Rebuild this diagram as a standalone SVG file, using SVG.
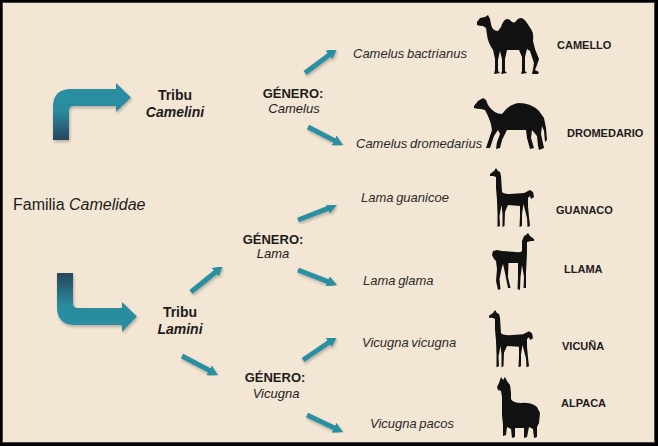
<svg xmlns="http://www.w3.org/2000/svg" width="658" height="446" viewBox="0 0 658 446">
<defs>
<linearGradient id="gUp" x1="0" y1="0" x2="0" y2="1">
<stop offset="0" stop-color="#2A90A4"/>
<stop offset="0.5" stop-color="#2A8A9E"/>
<stop offset="1" stop-color="#27475E"/>
</linearGradient>
<linearGradient id="gDown" x1="0" y1="0" x2="0" y2="1">
<stop offset="0" stop-color="#27475E"/>
<stop offset="0.55" stop-color="#2A8A9E"/>
<stop offset="1" stop-color="#2A90A4"/>
</linearGradient>
<filter id="sh" x="-20%" y="-20%" width="150%" height="150%">
<feDropShadow dx="1" dy="2" stdDeviation="1.5" flood-color="#000" flood-opacity="0.25"/>
</filter>
<marker id="ah" viewBox="0 0 10 11" markerWidth="2" markerHeight="2.2" refX="1" refY="5.5" orient="auto" markerUnits="strokeWidth">
<path d="M0,0 L10,5.5 L0,11 Z" fill="#2A8FA1"/>
</marker>
<style>
.t{font-family:"Liberation Sans",Arial,sans-serif;fill:#1c1c1c;}
.b{font-weight:bold;}
.i{font-style:italic;}
.sp{font-family:"Liberation Sans",Arial,sans-serif;font-style:italic;font-size:13px;fill:#2a2a2a;word-spacing:-1px;}
.cn{font-family:"Liberation Sans",Arial,sans-serif;font-weight:bold;font-size:11px;fill:#1c1c1c;}
.c{stroke:#2A8FA1;stroke-width:5;fill:none;marker-end:url(#ah);filter:url(#sh);}
.sil{fill:#111;}
</style>
</defs>
<rect x="0" y="0" width="658" height="446" fill="#000"/>
<rect x="2.5" y="2.5" width="652" height="440" fill="#F4E6D4" stroke="#444" stroke-width="1"/>

<g id="connectors">
<path d="M53,140 L53,107 Q53,89 71,89 L116,89 L116,83 L131,97.5 L116,112 L116,106 L74,106 Q69,106 69,111 L69,140 Z" fill="url(#gUp)" filter="url(#sh)"/>
<path d="M57,273 L73,273 L73,303 Q73,308 78,308 L122,308 L122,302 L137,316.5 L122,332 L122,325 L75,325 Q57,325 57,307 Z" fill="url(#gDown)" filter="url(#sh)"/>
<line class="c" x1="223" y1="100" x2="236" y2="100" style="stroke-width:2.5"/>
<line class="c" x1="305" y1="73" x2="329.8" y2="54.4"/>
<line class="c" x1="308" y1="127" x2="335" y2="140.9"/>
<line class="c" x1="298" y1="220" x2="328.6" y2="208.2"/>
<line class="c" x1="298" y1="270" x2="328.6" y2="281.8"/>
<line class="c" x1="303" y1="360" x2="329.5" y2="342"/>
<line class="c" x1="307" y1="415" x2="334.9" y2="428.2"/>
<line class="c" x1="191" y1="292" x2="216" y2="271.7"/>
<line class="c" x1="182" y1="356" x2="210" y2="370.8"/>
</g>

<g id="familia">
<text class="t" x="13" y="210" font-size="16">Familia <tspan class="i">Camelidae</tspan></text>
</g>

<g id="tribu-camelini">
<text class="t b" x="175" y="100" font-size="14" text-anchor="middle">Tribu</text>
<text class="t b i" x="175" y="117" font-size="14" text-anchor="middle">Camelini</text>
</g>
<g id="genero-camelus">
<text class="t b" x="293" y="98" font-size="13" text-anchor="middle">GÉNERO:</text>
<text class="t i" x="294" y="113" font-size="13" text-anchor="middle" fill="#2a2a2a">Camelus</text>
</g>
<g id="tribu-lamini">
<text class="t b" x="180" y="317" font-size="14" text-anchor="middle">Tribu</text>
<text class="t b i" x="180" y="334" font-size="14" text-anchor="middle">Lamini</text>
</g>
<g id="genero-lama">
<text class="t b" x="273" y="244" font-size="13" text-anchor="middle">GÉNERO:</text>
<text class="t i" x="273" y="258" font-size="13" text-anchor="middle">Lama</text>
</g>
<g id="genero-vicugna">
<text class="t b" x="275" y="382" font-size="13" text-anchor="middle">GÉNERO:</text>
<text class="t i" x="276" y="398" font-size="13" text-anchor="middle">Vicugna</text>
</g>

<g id="camello">
<text class="sp" x="353" y="58">Camelus bactrianus</text>
<path class="sil" transform="translate(477,15)" d="M0,7 L3,3 L8,2 L11,0 L13,4 L14,9 Q15,16 21,16 L24,12 Q28,0 34,6 Q37,9 39,6 Q44,-1 50,8 L54,14 Q57,18 56,26 L58,34 L62,44 L60,50 L58,55 L62,57 L61,59 L55,59 L56,54 L57,48 L55,42 L53,36 L50,34 L48,42 L48,56 L50,58 L44,59 L45,56 L45,42 L42,35 L30,35 L28,44 L28,56 L30,58 L24,59 L25,56 L25,44 L23,36 L21,45 L21,56 L23,58 L17,59 L18,55 L18,44 L16,35 Q11,28 10,20 L9,13 L6,11 Q2,11 0,10 Z"/>
<text class="cn" x="557" y="49">CAMELLO</text>
</g>
<g id="dromedario">
<text class="sp" x="356" y="148">Camelus dromedarius</text>
<path class="sil" transform="translate(474,98)" d="M0,8 L4,3 L9,0 L12,2 L14,7 Q20,16 28,16 Q35,6 45,5 Q57,5 65,13 L70,20 L72,30 L73,42 L71,44 L70,33 L68,28 L67,36 L70,50 L65,52 L64,48 L63,38 L58,32 L57,40 L60,50 L56,51 L53,40 L52,32 L33,32 L28,42 L26,50 L22,51 L23,44 L26,36 L24,32 L20,38 L16,50 L12,50 L14,44 L18,32 Q17,24 14,18 L11,12 L7,11 Q3,11 0,10 Z"/>
<text class="cn" x="567" y="137">DROMEDARIO</text>
</g>
<g id="guanaco">
<text class="sp" x="361" y="202">Lama guanicoe</text>
<path class="sil" transform="translate(490,168)" d="M0,6 L4,3 L6,0 L8,3 L10,4 L11,8 L12,24 Q14,26 20,26 L34,25 L38,23 L40,22 L43,24 L44,29 L41,31 L40,28 L38,30 L38,38 L39,49 L40,58 L37.5,59 L37,50 L34.5,40 L33.5,36 L32,46 L32,58 L29.5,59 L30,48 L30,38 L18,37 L15,44 L14.5,58 L12.5,59 L12.5,46 L11.5,37 L9.5,48 L10,58 L7.5,59 L7.5,46 L7,32 L6,20 L6,9 L3,8 L0,8 Z"/>
<text class="cn" x="556" y="214">GUANACO</text>
</g>
<g id="llama">
<text class="sp" x="363" y="285">Lama glama</text>
<path class="sil" transform="translate(492,233)" d="M42,6 L38,3 L36,0 L34,2 L32,3 L30,8 L30,18 Q28,20 24,19 L10,18 L5,17 L1,18 L0,22 L2,26 L4,28 L5,36 L4,48 L6,57 L8.5,56 L7.5,46 L9.5,36 L11,31 L13,40 L16,55 L18.5,55 L16,44 L16.5,30 L26,30 L26,44 L25.5,56 L28,57 L28.5,44 L30,32 L32,44 L31.5,55 L34,55 L34,40 L35,20 L35,9 L39,8 L42,8 Z"/>
<text class="cn" x="564" y="273">LLAMA</text>
</g>
<g id="vicuna">
<text class="sp" x="362" y="347">Vicugna vicugna</text>
<path class="sil" transform="translate(489,310) scale(1,0.97)" d="M0,6 L4,3 L6,0 L8,3 L10,4 L11,8 L12,24 Q14,26 20,26 L34,25 L38,23 L40,22 L43,24 L44,29 L41,31 L40,28 L38,30 L38,38 L39,49 L40,58 L37.5,59 L37,50 L34.5,40 L33.5,36 L32,46 L32,58 L29.5,59 L30,48 L30,38 L18,37 L15,44 L14.5,58 L12.5,59 L12.5,46 L11.5,37 L9.5,48 L10,58 L7.5,59 L7.5,46 L7,32 L6,20 L6,9 L3,8 L0,8 Z"/>
<text class="cn" x="562" y="350">VICUÑA</text>
</g>
<g id="alpaca">
<text class="sp" x="370" y="428">Vicugna pacos</text>
<path class="sil" transform="translate(497,377)" d="M2,6 L4,0 L6,3 L8,0 L10,4 L13,8 L14,16 L14,22 Q16,26 24,26 Q34,25 40,30 L43,36 L42,46 L40,50 L40,60 L37,61 L36,52 L32,50 L30,60 L27,61 L27,51 L18,51 L18,60 L15,61 L14,52 L10,50 L9,58 L6,59 L6,48 L5,38 L5,20 L4,14 L1,13 L0,10 Z"/>
<text class="cn" x="561" y="407">ALPACA</text>
</g>
</svg>
